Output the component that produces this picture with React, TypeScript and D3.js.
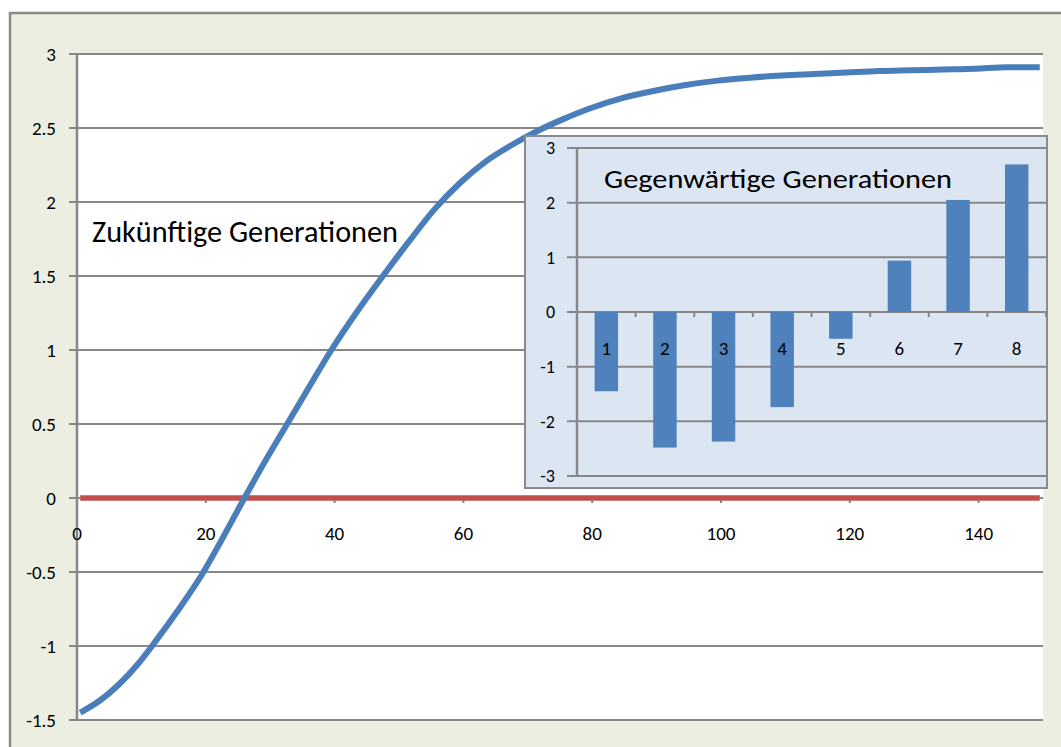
import React from "react";
import * as d3 from "d3";

// Main series (x = period, y = value)
const curveX = [1, 4, 7, 10, 13, 16, 20, 23, 26.5, 30, 33, 36, 40, 44, 48, 52, 56, 60, 64, 68, 72, 76, 80, 85, 90, 95, 100, 105, 110, 115, 120, 125, 130, 135, 140, 145, 150];
const curveY = [-1.45, -1.37, -1.26, -1.12, -0.95, -0.77, -0.51, -0.28, 0.0, 0.27, 0.49, 0.71, 1.0, 1.26, 1.5, 1.73, 1.95, 2.13, 2.275, 2.385, 2.48, 2.56, 2.63, 2.7, 2.75, 2.79, 2.82, 2.84, 2.855, 2.865, 2.875, 2.885, 2.89, 2.895, 2.9, 2.91, 2.91];
const zeroX = [1, 150];
const zeroY = [0, 0];

const yTicks = [3, 2.5, 2, 1.5, 1, 0.5, 0, -0.5, -1, -1.5];
const xTicks = [0, 20, 40, 60, 80, 100, 120, 140];

// Inset bar chart
const insetCats = ["1", "2", "3", "4", "5", "6", "7", "8"];
const insetVals = [-1.45, -2.48, -2.37, -1.74, -0.49, 0.94, 2.05, 2.7];
const insetTicks = [3, 2, 1, 0, -1, -2, -3];

const mainLabel = "Zukünftige Generationen";
const insetLabel = "Gegenwärtige Generationen";

const FONT = "Carlito, Lato, 'Open Sans', sans-serif";
const GRID = "#878787";

export default function App() {
  const W = 1061, H = 747;
  const L = 77, R = 1043, T = 54, B = 720;
  const x = d3.scaleLinear().domain([0, 150]).range([L, R]);
  const y = d3.scaleLinear().domain([-1.5, 3]).range([B, T]);

  // points sit in the middle of their period slot
  const line = d3.line<number>()
    .x((_, i) => x(curveX[i] - 0.5))
    .y((d) => y(d))
    .curve(d3.curveMonotoneX);
  const zline = d3.line<number>().x((_, i) => x(zeroX[i] - 0.5)).y((d) => y(d));

  // inset
  const IL = 577, IR = 1046, IT = 148, IB = 476;
  const bx = d3.scaleBand<string>().domain(insetCats).range([IL, IR]).paddingInner(0.6).paddingOuter(0.3);
  const by = d3.scaleLinear().domain([-3, 3]).range([IB, IT]);
  const step = bx.step();
  const off = (step - bx.bandwidth()) / 2;

  return (
    <svg width={W} height={H} style={{ position: "absolute", left: 0, top: 0 }} fontFamily={FONT}>
      <rect x={0} y={0} width={W} height={H} fill="#ffffff" />
      <rect x={10} y={13} width={1080} height={760} fill="#ebeee0" stroke="#8a8a8a" strokeWidth={2.5} />
      <rect x={L} y={T} width={R - L} height={B - T} fill="#ffffff" />
      {yTicks.map((t) => (
        <g key={"yt" + t}>
          <line x1={L - 8} x2={R} y1={y(t)} y2={y(t)} stroke={GRID} strokeWidth={2} />
          <text x={56} y={y(t)} dy="0.36em" textAnchor="end" fontSize={19} fill="#000">{t}</text>
        </g>
      ))}
      <line x1={L} x2={L} y1={T} y2={B} stroke={GRID} strokeWidth={2.5} />
      {xTicks.map((t) => (
        <g key={"xt" + t}>
          <line x1={x(t)} x2={x(t)} y1={y(0)} y2={y(0) + 5} stroke={GRID} strokeWidth={2} />
          <text x={x(t)} y={533} dy="0.36em" textAnchor="middle" fontSize={19} fill="#000">{t}</text>
        </g>
      ))}
      <text x={92} y={242} fontSize={30} fill="#000" textLength={306} lengthAdjust="spacingAndGlyphs">{mainLabel}</text>
      <path d={zline(zeroY) || ""} fill="none" stroke="#c0504d" strokeWidth={5.5} />
      <path d={line(curveY) || ""} fill="none" stroke="#4a7ebb" strokeWidth={6} strokeLinejoin="round" />

      {/* inset chart */}
      <rect x={525} y={136} width={522} height={352} fill="#dce6f2" stroke="#8a8a8a" strokeWidth={2} />
      {insetTicks.map((t) => (
        <g key={"it" + t}>
          <line x1={IL - 10} x2={IR} y1={by(t)} y2={by(t)} stroke={GRID} strokeWidth={2} />
          <text x={555} y={by(t)} dy="0.36em" textAnchor="end" fontSize={18} fill="#000">{t}</text>
        </g>
      ))}
      <line x1={IL} x2={IL} y1={IT} y2={IB} stroke={GRID} strokeWidth={2.5} />
      {insetCats.map((c, i) => (
        <g key={"ic" + c}>
          <line x1={(bx(c) as number) - off} x2={(bx(c) as number) - off} y1={by(0)} y2={by(0) + 5} stroke={GRID} strokeWidth={2} />
          {i === insetCats.length - 1 && (
            <line x1={(bx(c) as number) - off + step} x2={(bx(c) as number) - off + step} y1={by(0)} y2={by(0) + 5} stroke={GRID} strokeWidth={2} />
          )}
        </g>
      ))}
      {insetCats.map((c, i) => {
        const v = insetVals[i];
        return (
          <rect key={"b" + c} x={bx(c) as number} width={bx.bandwidth()}
            y={by(Math.max(0, v))} height={Math.abs(by(v) - by(0))} fill="#4f81bd" />
        );
      })}
      {insetCats.map((c) => (
        <text key={"il" + c} x={(bx(c) as number) + bx.bandwidth() / 2} y={348} dy="0.36em" textAnchor="middle" fontSize={19} fill="#000">{c}</text>
      ))}
      <text x={604} y={188} fontSize={27} fill="#000" textLength={348} lengthAdjust="spacingAndGlyphs">{insetLabel}</text>
    </svg>
  );
}
